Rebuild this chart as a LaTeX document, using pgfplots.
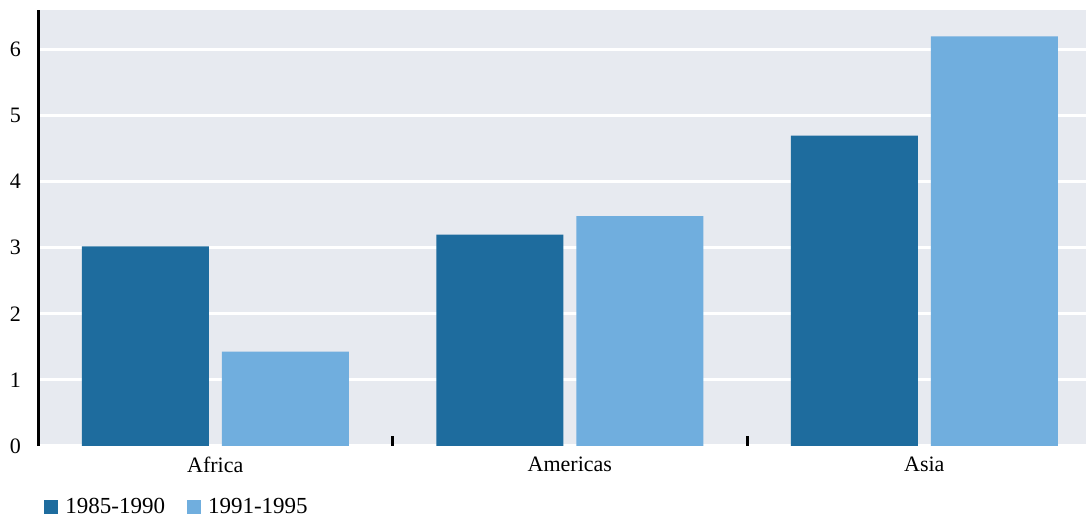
\documentclass[border=0pt]{standalone}
\usepackage{pgfplots}
\pgfplotsset{compat=1.18}
\usepackage{fontspec}
\setmainfont{Liberation Serif}
\definecolor{darkbar}{RGB}{30,108,158}
\definecolor{lightbar}{RGB}{112,174,222}
\definecolor{bgc}{RGB}{231,234,240}
\begin{document}
\begin{tikzpicture}
\path[use as bounding box] (-19pt,-35.5pt) rectangle (524pt,223pt);
\begin{axis}[
  scale only axis,
  width=524pt, height=218pt,
  xmin=-0.5, xmax=2.456,
  ymin=0, ymax=6.6,
  axis lines*=left,
  x axis line style={draw=none},
  y axis line style={black, line width=1.5pt},
  axis background/.style={fill=bgc},
  ymajorgrids, grid style={white, line width=1.5pt},
  xtick={0,1,2}, xticklabels={Africa,Americas,Asia},
  ytick={0,1,2,3,4,5,6},
  minor xtick={0.5,1.5},
  major tick length=0pt,
  minor tick length=5pt,
  tick align=inside,
  minor x tick style={black, line width=1.5pt},
  xticklabel style={font=\fontsize{11}{12}\selectfont, yshift=-2pt},
  yticklabel style={font=\fontsize{11}{12}\selectfont, xshift=-5pt},
  /pgf/number format/assume math mode=true,
  legend style={at={(axis description cs:0,0)}, anchor=west, yshift=-30.5pt, xshift=0pt,
    draw=none, fill=none, legend columns=2, font=\fontsize{11.5}{13}\selectfont,
    /tikz/every even column/.append style={column sep=9pt}},
  legend image code/.code={\fill[#1] (0pt,-3.5pt) rectangle (7pt,3.5pt); \path (8.5pt,0pt);},
]
\addplot[ybar, bar width=63.5pt, bar shift=-35pt, fill=darkbar, draw=none]
  coordinates {(0,3.02) (1,3.2) (2,4.7)};
\addlegendentry{1985-1990}
\addplot[ybar, bar width=63.5pt, bar shift=35pt, fill=lightbar, draw=none]
  coordinates {(0,1.43) (1,3.48) (2,6.2)};
\addlegendentry{1991-1995}
\end{axis}
\end{tikzpicture}
\end{document}
